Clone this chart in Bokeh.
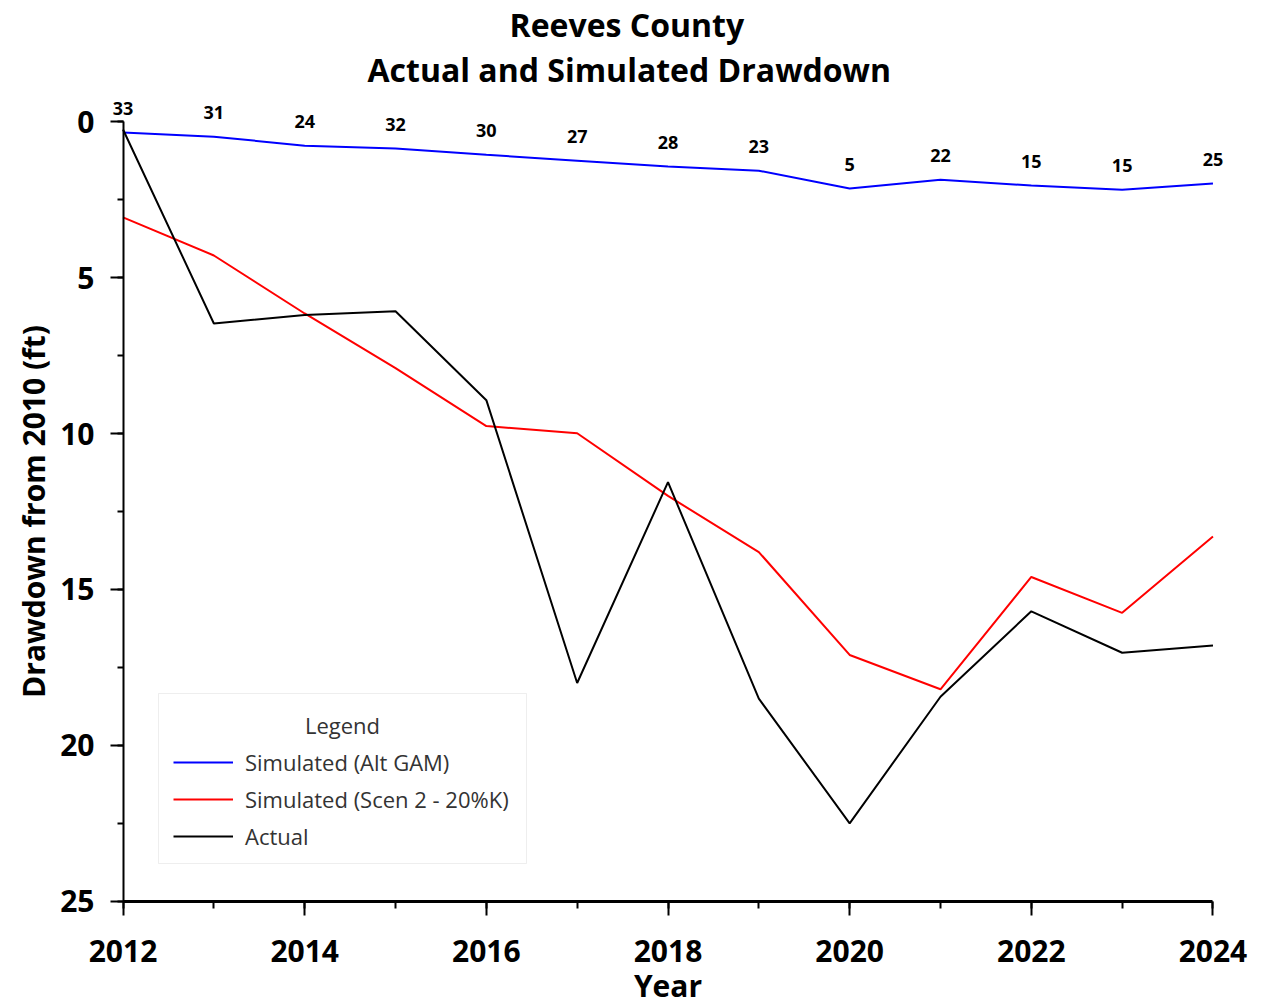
from bokeh.plotting import figure
from bokeh.models import (Range1d, FixedTicker, Legend, LegendItem, ColumnDataSource,
                          LabelSet, Label, Title, BoxAnnotation, LinearAxis)
from bokeh.core.properties import value
from bokeh.embed import file_html
from bokeh.resources import INLINE

years = [2012, 2013, 2014, 2015, 2016, 2017, 2018, 2019, 2020, 2021, 2022, 2023, 2024]
sim_alt_gam = [0.35, 0.48, 0.77, 0.86, 1.06, 1.25, 1.44, 1.57, 2.14, 1.86, 2.05, 2.18, 1.98]
sim_scen2 = [3.07, 4.29, 6.15, 7.9, 9.76, 9.99, 12.0, 13.8, 17.1, 18.2, 14.6, 15.75, 13.3]
actual = [0.25, 6.47, 6.2, 6.08, 8.93, 18.0, 11.56, 18.5, 22.5, 18.44, 15.7, 17.03, 16.8]
well_counts = ["33", "31", "24", "32", "30", "27", "28", "23", "5", "22", "15", "15", "25"]

x_ticks = [2012, 2014, 2016, 2018, 2020, 2022, 2024]
y_ticks = [0, 5, 10, 15, 20, 25]
y_minor = [0, 2.5, 5, 7.5, 10, 12.5, 15, 17.5, 20, 22.5, 25]

FONT = "Open Sans"
TXT = "#333333"

p = figure(width=1262, height=1008, output_backend="svg", toolbar_location=None,
           x_range=Range1d(2011.84, 2024.16), y_range=Range1d(26.0, -1.0),
           min_border_left=108, min_border_right=35, min_border_top=89, min_border_bottom=76)
p.outline_line_color = None
p.xgrid.visible = False
p.ygrid.visible = False

p.add_layout(Title(text="Actual and Simulated Drawdown", align="left", text_font=FONT,
                   text_font_size="32px", text_font_style="bold", text_color="black",
                   offset=259, standoff=0), "above")
p.add_layout(Title(text="Reeves County", align="left", text_font=FONT,
                   text_font_size="32px", text_font_style="bold", text_color="black",
                   offset=401, standoff=0), "above")

r_blue = p.line(years, sim_alt_gam, line_color="#0000ff", line_width=2)
r_red = p.line(years, sim_scen2, line_color="#ff0000", line_width=2)
r_black = p.line(years, actual, line_color="#000000", line_width=2)

# well counts above the Alt GAM line
src = ColumnDataSource(dict(x=years, y=sim_alt_gam, t=well_counts))
labels = LabelSet(x="x", y="y", text="t", source=src, y_offset=24, text_align="center",
                  text_baseline="middle", text_font=value(FONT), text_font_size="18px",
                  text_font_style="bold", text_color="black")
p.add_layout(labels)

# x axis: labels and title in the bottom panel
xa = p.xaxis[0]
xa.ticker = FixedTicker(ticks=x_ticks, minor_ticks=years)
xa.bounds = (2012, 2024)
xa.axis_label = "Year"
xa.axis_label_text_font = FONT
xa.axis_label_text_font_size = "30px"
xa.axis_label_text_font_style = "bold"
xa.axis_label_text_color = "black"
xa.major_label_text_font = FONT
xa.major_label_text_font_size = "30px"
xa.major_label_text_font_style = "bold"
xa.major_label_text_color = "black"
xa.axis_line_color = None
xa.major_tick_line_color = None
xa.minor_tick_line_color = None
xa.major_tick_in = 0
xa.minor_tick_in = 0
xa.major_tick_out = 0
xa.minor_tick_out = 0
xa.major_label_standoff = 7
xa.axis_label_standoff = 0

# x axis line and ticks drawn at 25 ft
xa_line = LinearAxis(fixed_location=25, bounds=(2012, 2024),
                     ticker=FixedTicker(ticks=x_ticks, minor_ticks=years),
                     axis_line_color="black", axis_line_width=3,
                     major_tick_line_color="black", minor_tick_line_color="black",
                     major_tick_line_width=2, minor_tick_line_width=2,
                     major_tick_in=0, minor_tick_in=0, major_tick_out=14, minor_tick_out=7,
                     major_label_text_color=None)
p.add_layout(xa_line, "below")

# y axis: labels and title in the left panel
ya = p.yaxis[0]
ya.ticker = FixedTicker(ticks=y_ticks, minor_ticks=y_minor)
ya.axis_label = "Drawdown from 2010 (ft)"
ya.axis_label_text_font = FONT
ya.axis_label_text_font_size = "30px"
ya.axis_label_text_font_style = "bold"
ya.axis_label_text_color = "black"
ya.major_label_text_font = FONT
ya.major_label_text_font_size = "30px"
ya.major_label_text_font_style = "bold"
ya.major_label_text_color = "black"
ya.axis_line_color = None
ya.major_tick_line_color = None
ya.minor_tick_line_color = None
ya.major_tick_in = 0
ya.major_tick_out = 0
ya.minor_tick_in = 0
ya.minor_tick_out = 0
ya.major_label_standoff = 14
ya.axis_label_standoff = 3

# y axis line and ticks drawn at the first year
ya_line = LinearAxis(fixed_location=2012, bounds=(0, 25),
                     ticker=FixedTicker(ticks=y_ticks, minor_ticks=y_minor),
                     axis_line_color="black", axis_line_width=2,
                     major_tick_line_color="black", minor_tick_line_color="black",
                     major_tick_line_width=2, minor_tick_line_width=2,
                     major_tick_in=0, minor_tick_in=0, major_tick_out=13, minor_tick_out=6,
                     major_label_text_color=None)
p.add_layout(ya_line, "left")

box = BoxAnnotation(left=50, right=418, bottom=69, top=239,
                    left_units="screen", right_units="screen",
                    bottom_units="screen", top_units="screen",
                    fill_color="white", fill_alpha=1.0,
                    line_color="#c8c8c8", line_width=1)
p.add_layout(box)

p.add_layout(Label(x=234, y=208, x_units="screen", y_units="screen", text="Legend",
                   text_align="center", text_baseline="middle", text_font=FONT,
                   text_font_size="22px", text_color=TXT))

legend = Legend(items=[LegendItem(label="Simulated (Alt GAM)", renderers=[r_blue]),
                       LegendItem(label="Simulated (Scen 2 - 20%K)", renderers=[r_red]),
                       LegendItem(label="Actual", renderers=[r_black])],
                location=(65, 81),
                label_text_font=FONT, label_text_font_size="22px", label_text_color=TXT,
                glyph_width=60, glyph_height=30, label_height=30, label_standoff=12, spacing=7,
                padding=0, margin=0, border_line_color=None, background_fill_alpha=0)
p.add_layout(legend)

open("out.html", "w").write(file_html(p, INLINE))
